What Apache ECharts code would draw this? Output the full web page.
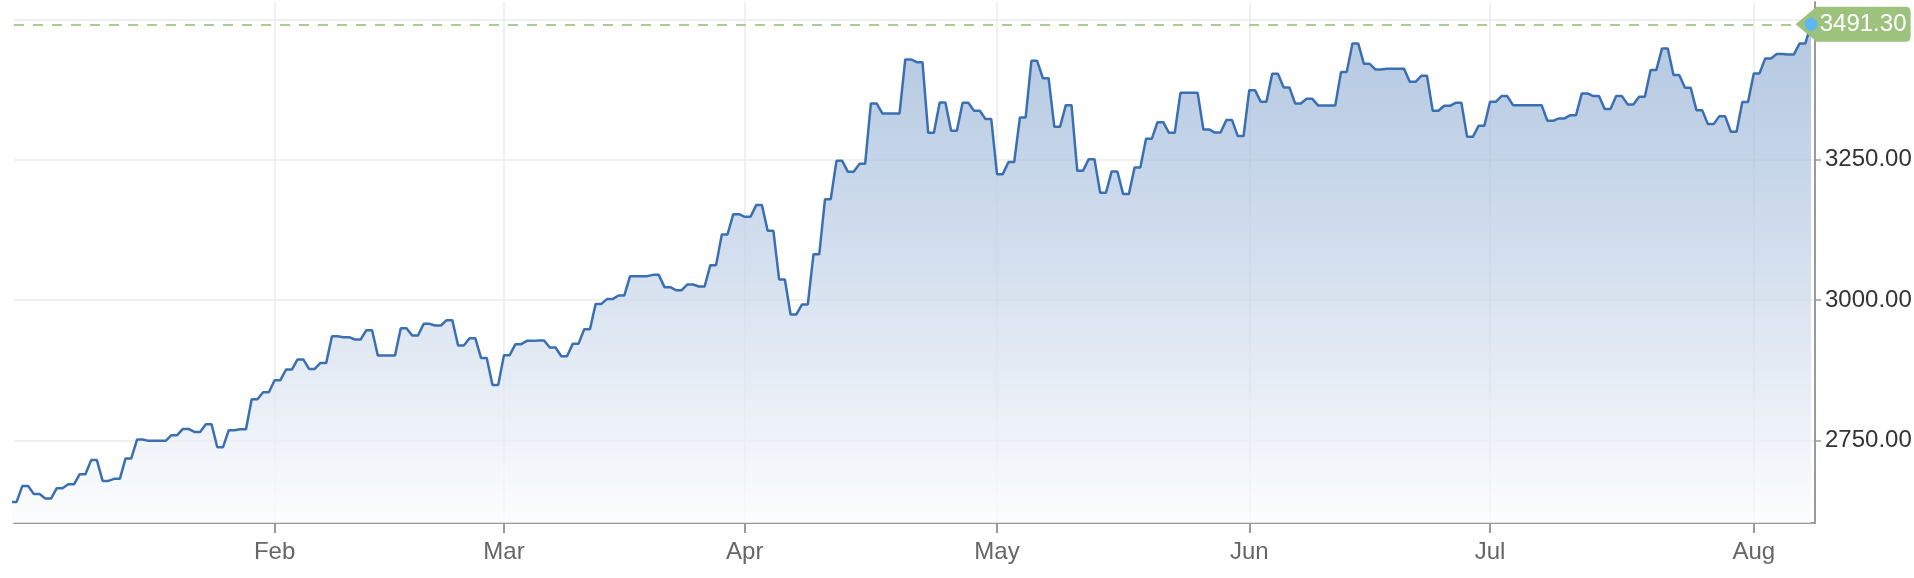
<!DOCTYPE html>
<html>
<head>
<meta charset="utf-8">
<script src="https://cdn.jsdelivr.net/npm/echarts@6/dist/echarts.min.js"></script>
<style>
html,body{margin:0;padding:0;background:#fff;}
#chart{width:1914px;height:578px;}
</style>
</head>
<body>
<div id="chart"></div>
<script>
// Daily closing values, one per weekday from 1 Jan to 8 Aug
const closes = [
  2640.6,2669.0,2654.8,2646.6,2665.0,2672.0,2690.0,2715.0,2678.0,2681.6,
  2718.0,2751.7,2749.3,2749.3,2759.4,2770.6,2765.3,2779.0,2738.0,2768.3,
  2770.0,2823.5,2836.0,2857.4,2876.4,2894.3,2877.5,2888.2,2935.8,2934.0,
  2929.9,2946.5,2901.4,2901.4,2950.0,2937.0,2957.7,2954.8,2964.3,2919.2,
  2932.2,2897.1,2849.0,2901.9,2921.5,2927.4,2928.0,2915.6,2900.1,2922.1,
  2948.2,2993.3,3002.2,3008.3,3042.7,3042.7,3045.0,3023.1,3017.7,3027.9,
  3024.3,3062.3,3117.0,3153.1,3148.3,3169.2,3123.4,3036.8,2974.4,2992.3,
  3081.9,3179.8,3248.1,3228.5,3242.7,3350.3,3332.5,3332.5,3428.7,3423.9,
  3298.0,3352.1,3301.5,3351.4,3337.2,3322.4,3224.4,3245.8,3325.4,3426.2,
  3395.4,3308.7,3347.3,3230.3,3251.1,3191.1,3229.2,3188.8,3236.3,3287.3,
  3317.0,3298.0,3369.2,3369.2,3304.0,3298.5,3320.6,3292.1,3374.0,3353.2,
  3403.1,3378.9,3350.3,3358.5,3346.8,3346.8,3406.1,3457.2,3420.9,3410.9,
  3412.0,3412.0,3388.8,3399.5,3337.2,3346.1,3351.4,3290.8,3310.4,3353.2,
  3363.4,3347.3,3347.3,3347.3,3319.4,3323.6,3329.5,3368.2,3363.4,3340.2,
  3363.4,3348.6,3362.1,3409.7,3448.3,3400.8,3378.1,3338.4,3313.5,3327.7,
  3299.8,3352.7,3403.8,3430.5,3438.2,3437.6,3457.2,3491.3
];
// index (trading day) of the first trading day of each month, and its label
const monthStartDay = [23, 43, 64, 86, 108, 129, 152];
const monthLabels = ['Feb', 'Mar', 'Apr', 'May', 'Jun', 'Jul', 'Aug'];
// y axis ticks / labels
const yTickValues = [2750, 3000, 3250, 3500];
const yLabelValues = [2750, 3000, 3250];
const lastPrice = 3491.30;

// each day's value is held for part of the day, then moves to the next day's value
const HOLD = 0.5;
const seriesData = [];
closes.forEach((v, i) => {
  seriesData.push([i, v]);
  if (i < closes.length - 1) seriesData.push([i + HOLD, v]);
});

const FONT = '"Liberation Sans", Arial, Helvetica, sans-serif';
const chart = echarts.init(document.getElementById('chart'), null, {renderer: 'canvas'});
const option = {
  animation: false,
  backgroundColor: '#ffffff',
  textStyle: {fontFamily: FONT},
  grid: {left: 14, right: 99, top: 2, bottom: 55, containLabel: false, outerBoundsMode: 'none'},
  xAxis: {
    type: 'value',
    min: 0.27,
    max: 157.34,
    axisLine: {show: true, onZero: false, lineStyle: {color: '#9a9a9a', width: 2}},
    axisTick: {show: true, customValues: monthStartDay, length: 10, lineStyle: {color: '#9a9a9a', width: 2}},
    axisLabel: {
      customValues: monthStartDay,
      formatter: v => monthLabels[monthStartDay.indexOf(v)] || '',
      color: '#666666', fontSize: 24, margin: 17, fontFamily: FONT
    },
    splitLine: {show: true, lineStyle: {color: '#ebebeb', width: 1.5}}
  },
  yAxis: {
    type: 'value',
    position: 'right',
    min: 2603,
    max: 3531,
    axisLine: {show: true, lineStyle: {color: '#9a9a9a', width: 2}},
    axisTick: {show: true, customValues: yTickValues, length: 6, lineStyle: {color: '#9a9a9a', width: 1.5}},
    axisLabel: {
      customValues: yLabelValues,
      formatter: v => v.toFixed(2),
      color: '#333333', fontSize: 24, margin: 10, fontFamily: FONT
    },
    splitLine: {show: true, lineStyle: {color: '#ebebeb', width: 1.5}}
  },
  series: [{
    type: 'line',
    data: seriesData,
    showSymbol: false,
    symbol: 'none',
    lineStyle: {color: '#3a6fb2', width: 2.5},
    areaStyle: {
      color: new echarts.graphic.LinearGradient(0, 0, 0, 1, [
        {offset: 0, color: 'rgb(148,176,212)'},
        {offset: 0.3, color: 'rgb(175,197,224)'},
        {offset: 0.65, color: 'rgb(212,223,238)'},
        {offset: 1, color: 'rgb(251,252,254)'}
      ])
    },
    markLine: {
      silent: true,
      symbol: 'none',
      label: {show: false},
      lineStyle: {color: '#a9cc8f', type: [10, 9], width: 2},
      data: [{yAxis: lastPrice}]
    },
    markPoint: {
      silent: true,
      data: [
        {
          coord: [157, lastPrice],
          symbol: 'path://M0,17.5 L21,0 L110,0 Q115,0 115,5 L115,30 Q115,35 110,35 L21,35 Z',
          symbolSize: [115, 35],
          symbolOffset: [42, 0],
          itemStyle: {color: '#9cc27e'},
          label: {show: true, formatter: lastPrice.toFixed(2), color: '#ffffff', fontSize: 24, fontFamily: FONT, offset: [10, 0]}
        },
        {
          coord: [157, lastPrice],
          symbol: 'circle',
          symbolSize: 13,
          itemStyle: {color: '#5db7f2'},
          label: {show: false}
        }
      ]
    }
  }]
};
chart.setOption(option);
</script>
</body>
</html>
